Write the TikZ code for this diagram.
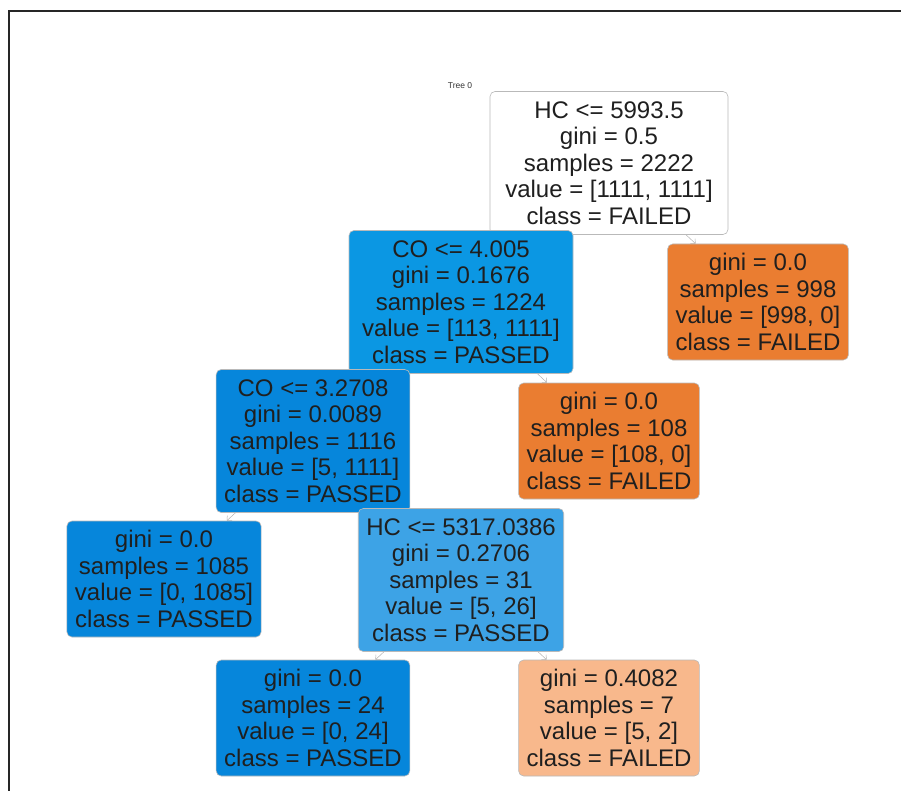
\documentclass[tikz,border=0pt]{standalone}
\usepackage{fontspec}
\setmainfont{Liberation Sans}
\usetikzlibrary{arrows.meta,backgrounds}

\definecolor{passedfull}{RGB}{6,134,219}
\definecolor{passedhigh}{RGB}{11,151,227}
\definecolor{passedmid}{RGB}{61,163,230}
\definecolor{failedfull}{RGB}{234,125,49}
\definecolor{failedlow}{RGB}{248,184,140}

\tikzset{
  box/.style={rounded corners=5pt, draw=gray!55, line width=0.6pt, align=center,
    font=\fontsize{24}{26.5}\selectfont, text=black!88, inner xsep=8pt},
  split/.style={box, minimum height=143pt},
  leaf/.style={box, minimum height=116pt},
  edge/.style={draw=gray!60, line width=0.5pt, -{Straight Barb[length=3.5pt,width=7pt]}}
}

\begin{document}
\begin{tikzpicture}[x=1pt,y=-1pt]
\useasboundingbox (0,0) rectangle (901,791);

% frame
\draw[line width=2pt, black!85] (8.5,791) -- (8.5,11) -- (901,11);

\node[font=\fontsize{8.5}{9}\selectfont, text=black!80] (title) at (460,86) {Tree 0};

% level 0
\node[split, fill=white, minimum width=238pt] (root) at (609,163) {HC <= 5993.5\\gini = 0.5\\samples = 2222\\value = [1111, 1111]\\class = FAILED};

% level 1
\node[split, fill=passedhigh, minimum width=224pt] (coA) at (461,302) {CO <= 4.005\\gini = 0.1676\\samples = 1224\\value = [113, 1111]\\class = PASSED};
\node[leaf, fill=failedfull] (leafA) at (758,302) {gini = 0.0\\samples = 998\\value = [998, 0]\\class = FAILED};

% level 2
\node[split, fill=passedfull] (coB) at (313,441) {CO <= 3.2708\\gini = 0.0089\\samples = 1116\\value = [5, 1111]\\class = PASSED};
\node[leaf, fill=failedfull] (leafB) at (609,441) {gini = 0.0\\samples = 108\\value = [108, 0]\\class = FAILED};

% level 3
\node[leaf, fill=passedfull] (leafC) at (164,579) {gini = 0.0\\samples = 1085\\value = [0, 1085]\\class = PASSED};
\node[split, fill=passedmid] (hc) at (461,580) {HC <= 5317.0386\\gini = 0.2706\\samples = 31\\value = [5, 26]\\class = PASSED};

% level 4
\node[leaf, fill=passedfull] (leafD) at (313,718) {gini = 0.0\\samples = 24\\value = [0, 24]\\class = PASSED};
\node[leaf, fill=failedlow] (leafE) at (609,718) {gini = 0.4082\\samples = 7\\value = [5, 2]\\class = FAILED};

% edges
\begin{scope}[on background layer]
\draw[edge] (root) -- (coA);
\draw[edge] (root) -- (leafA);
\draw[edge] (coA) -- (coB);
\draw[edge] (coA) -- (leafB);
\draw[edge] (coB) -- (leafC);
\draw[edge] (coB) -- (hc);
\draw[edge] (hc) -- (leafD);
\draw[edge] (hc) -- (leafE);
\end{scope}
\end{tikzpicture}
\end{document}
